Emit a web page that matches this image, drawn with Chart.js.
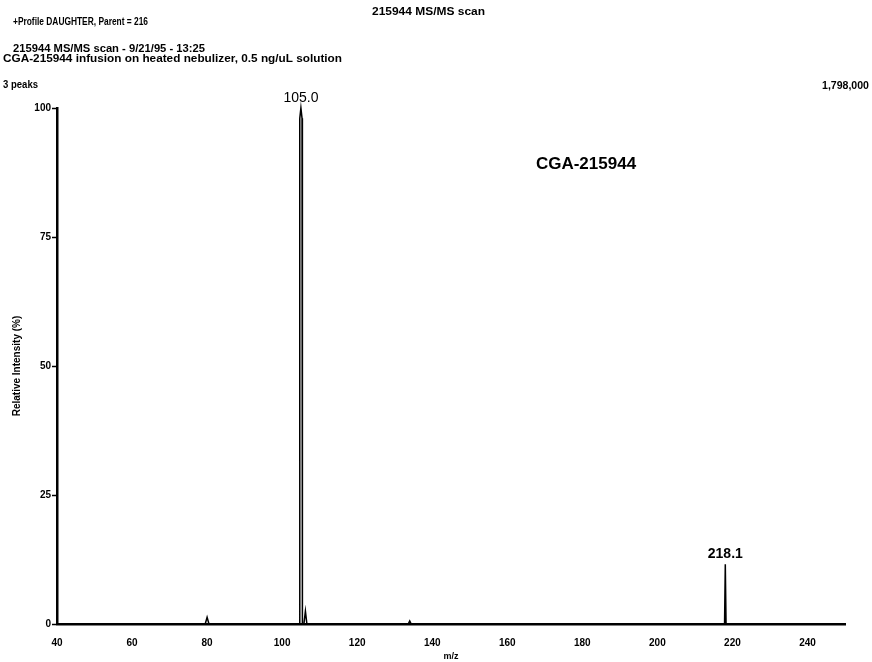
<!DOCTYPE html>
<html lang="en">
<head>
<meta charset="UTF-8">
<title>215944 MS/MS scan</title>
<script src="https://cdn.jsdelivr.net/npm/chart.js@4.4.0/dist/chart.umd.min.js"></script>
<style>
  body { margin: 0; background: #fff; }
  canvas { display: block; }
</style>
</head>
<body>
<canvas id="spectrum" width="872" height="662"></canvas>
<script>
// profile points (m/z, relative intensity %)
var mz        = [40, 79.5, 80.0, 80.5, 104.6, 104.7, 105.0, 105.3, 105.4, 105.8, 106.2, 106.6, 133.6, 134.0, 134.4, 217.9, 218.1, 218.3, 250];
var intensity = [0,  0,    1.3,  0,    0,     98,    100,   98,    0,     0,     2.5,   0,     0,     0.6,   0,     0,     11.6,  0,     0];

var xTicks = [40, 60, 80, 100, 120, 140, 160, 180, 200, 220, 240];
var yTicks = [0, 25, 50, 75, 100];

var peakMz = [105.0, 218.1];
var peakLabels = ["105.0", "218.1"];

var headerLines = [
    "+Profile DAUGHTER, Parent = 216",
    "215944 MS/MS scan - 9/21/95 - 13:25",
    "CGA-215944 infusion on heated nebulizer, 0.5 ng/uL solution",
    "3 peaks"
];
var chartTitle = "215944 MS/MS scan";
var compound = "CGA-215944";
var fullScale = "1,798,000";

var FONT = "'Liberation Sans', Arial, sans-serif";

var points = mz.map(function (x, i) { return {x: x, y: intensity[i]}; });

// the scanned lettering is wide, so stretch each string to the width seen
function wideText(ctx, text, x, y, w) {
    var m = ctx.measureText(text).width;
    ctx.save();
    ctx.translate(x, y);
    ctx.scale(w / m, 1);
    ctx.fillText(text, 0, 0);
    ctx.restore();
}

var textPlugin = {
    id: "texts",
    afterDraw: function (chart) {
        var ctx = chart.ctx;
        var xs = chart.scales.x, ys = chart.scales.y;
        ctx.save();
        ctx.fillStyle = "#000";
        ctx.textBaseline = "middle";
        ctx.textAlign = "left";

        ctx.font = "bold 10px " + FONT;
        wideText(ctx, headerLines[0], 13, 22, 135);
        wideText(ctx, headerLines[1], 13, 49, 192);
        wideText(ctx, headerLines[2], 3, 59, 339);
        wideText(ctx, headerLines[3], 3, 85, 35);
        wideText(ctx, chartTitle, 372, 12, 113);
        wideText(ctx, fullScale, 822, 86, 47);

        ctx.textAlign = "center";
        ctx.font = "bold 17px " + FONT;
        ctx.fillText(compound, 586, 164, 108);

        for (var i = 0; i < peakMz.length; i++) {
            var j = mz.indexOf(peakMz[i]);
            var px = xs.getPixelForValue(peakMz[i]);
            var py = ys.getPixelForValue(intensity[j]);
            ctx.font = (i === 0 ? "" : "bold ") + "14px " + FONT;
            ctx.fillText(peakLabels[i], px, py - 10, 40);
        }
        ctx.restore();
    }
};

new Chart(document.getElementById("spectrum"), {
    type: "line",
    data: {
        datasets: [{
            data: points,
            borderColor: "#000",
            borderWidth: 1.5,
            pointRadius: 0,
            tension: 0,
            fill: false,
            clip: false
        }]
    },
    options: {
        responsive: false,
        animation: false,
        devicePixelRatio: 1,
        layout: { padding: { top: 108, right: 27, left: 0, bottom: 0 } },
        plugins: {
            legend: { display: false },
            tooltip: { enabled: false }
        },
        scales: {
            x: {
                type: "linear",
                min: 40,
                max: 250,
                afterBuildTicks: function (s) { s.ticks = xTicks.map(function (v) { return {value: v}; }); },
                afterFit: function (s) { s.height = 38; },
                ticks: { color: "#000", font: { family: FONT, size: 10, weight: "bold" }, padding: 13, maxRotation: 0 },
                grid: { drawOnChartArea: false, drawTicks: false },
                border: { color: "#000", width: 2.5 },
                title: { display: true, text: "m/z", color: "#000", font: { family: FONT, size: 9, weight: "bold" }, padding: 0 }
            },
            y: {
                min: 0,
                max: 100,
                afterBuildTicks: function (s) { s.ticks = yTicks.map(function (v) { return {value: v}; }); },
                afterFit: function (s) { s.width = 57; },
                ticks: { color: "#000", font: { family: FONT, size: 10, weight: "bold" }, padding: 1 },
                grid: { drawOnChartArea: false, drawTicks: true, tickLength: 5, tickColor: "#000", tickWidth: 1.5 },
                border: { color: "#000", width: 2.5 },
                title: { display: true, text: "Relative Intensity (%)", color: "#000", font: { family: FONT, size: 10, weight: "bold" }, padding: { top: 11, bottom: 0 } }
            }
        }
    },
    plugins: [textPlugin]
});
</script>
</body>
</html>
